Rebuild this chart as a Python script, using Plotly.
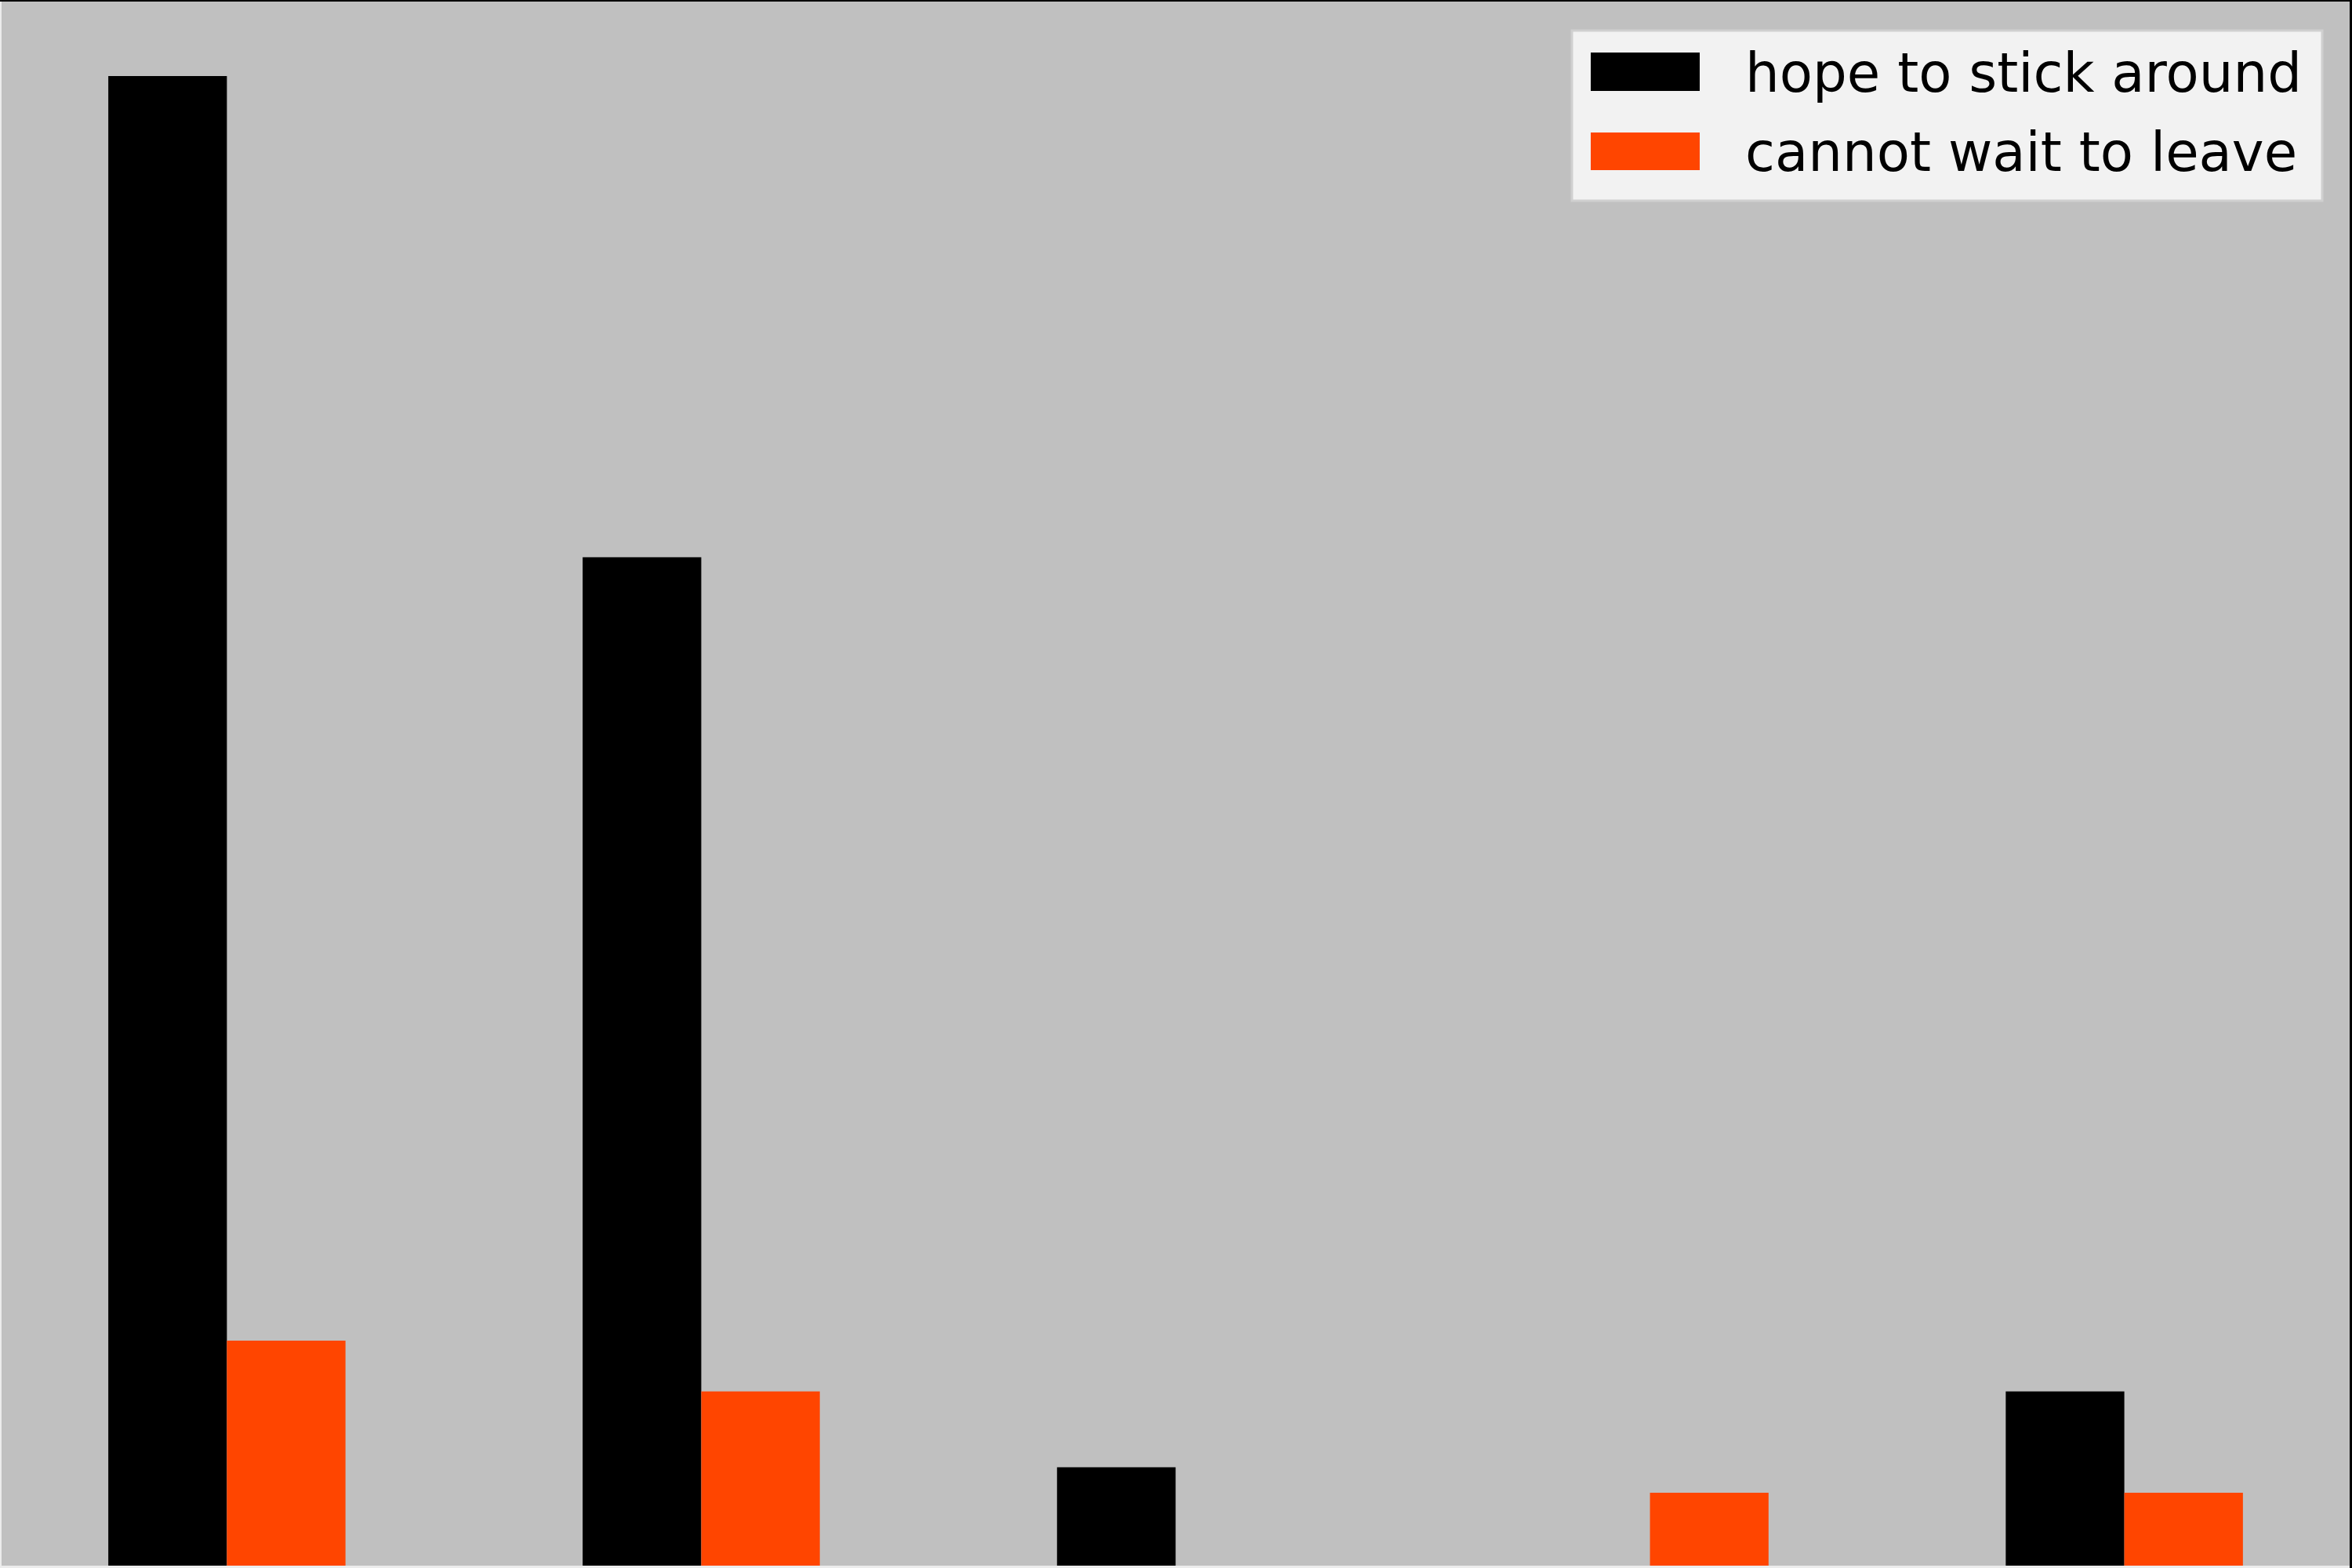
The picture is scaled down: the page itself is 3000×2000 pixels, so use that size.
import plotly.graph_objects as go

# ---- data ----
positions = [0, 1, 2, 3, 4]
series_names = ["hope to stick around", "cannot wait to leave"]
hope_values = [100.0, 67.7, 6.6, 0.0, 11.7]
leave_values = [15.1, 11.7, 0.0, 4.9, 4.9]
series_colors = ["#000000", "#ff4500"]

W, H = 3000, 2000
ML, MR, MT, MB = 2, 3, 2, 3
PW, PH = W - ML - MR, H - MT - MB


def px_x(x):
    return (x - ML) / PW


def px_y(y):
    return (H - MB - y) / PH


fig = go.Figure()
for name, vals, col in zip(series_names, [hope_values, leave_values], series_colors):
    fig.add_trace(go.Bar(x=positions, y=vals, name=name, marker=dict(color=col, line=dict(width=0)),
                         showlegend=False))

ymax = max(hope_values + leave_values) * 1.05

shapes = [
    # top and right black border
    dict(type="rect", xref="paper", yref="paper", x0=px_x(0), x1=px_x(W), y0=px_y(MT), y1=px_y(0),
         fillcolor="#000000", line=dict(width=0), layer="above"),
    dict(type="rect", xref="paper", yref="paper", x0=px_x(W - MR), x1=px_x(W), y0=px_y(H), y1=px_y(0),
         fillcolor="#000000", line=dict(width=0), layer="above"),
    # legend box
    dict(type="rect", xref="paper", yref="paper", x0=px_x(2005), x1=px_x(2962), y0=px_y(256), y1=px_y(39),
         fillcolor="#f2f2f2", line=dict(color="#d0d0d0", width=3), layer="above"),
]
annotations = []
sw = [(67, 116), (169, 217)]
for (t, b), name, col in zip(sw, series_names, series_colors):
    shapes.append(dict(type="rect", xref="paper", yref="paper", x0=px_x(2029), x1=px_x(2168),
                       y0=px_y(b), y1=px_y(t), fillcolor=col, line=dict(width=0), layer="above"))
    annotations.append(dict(xref="paper", yref="paper", x=px_x(2224), y=px_y((t + b) / 2 + 1),
                            xanchor="left", yanchor="middle", text=name, showarrow=False,
                            font=dict(family="DejaVu Sans", size=69, color="#000000")))

fig.update_layout(
    width=W, height=H,
    margin=dict(l=ML, r=MR, t=MT, b=MB, pad=0),
    paper_bgcolor="#ececec",
    plot_bgcolor="#c0c0c0",
    barmode="group", bargap=0.5, bargroupgap=0,
    xaxis=dict(range=[-0.475, 4.475], showticklabels=False, showgrid=False, zeroline=False,
               ticks="", showline=False),
    yaxis=dict(range=[0, ymax], showticklabels=False, showgrid=False, zeroline=False,
               ticks="", showline=False),
    shapes=shapes,
    annotations=annotations,
    font=dict(family="DejaVu Sans"),
)

fig.write_html("out.html")
